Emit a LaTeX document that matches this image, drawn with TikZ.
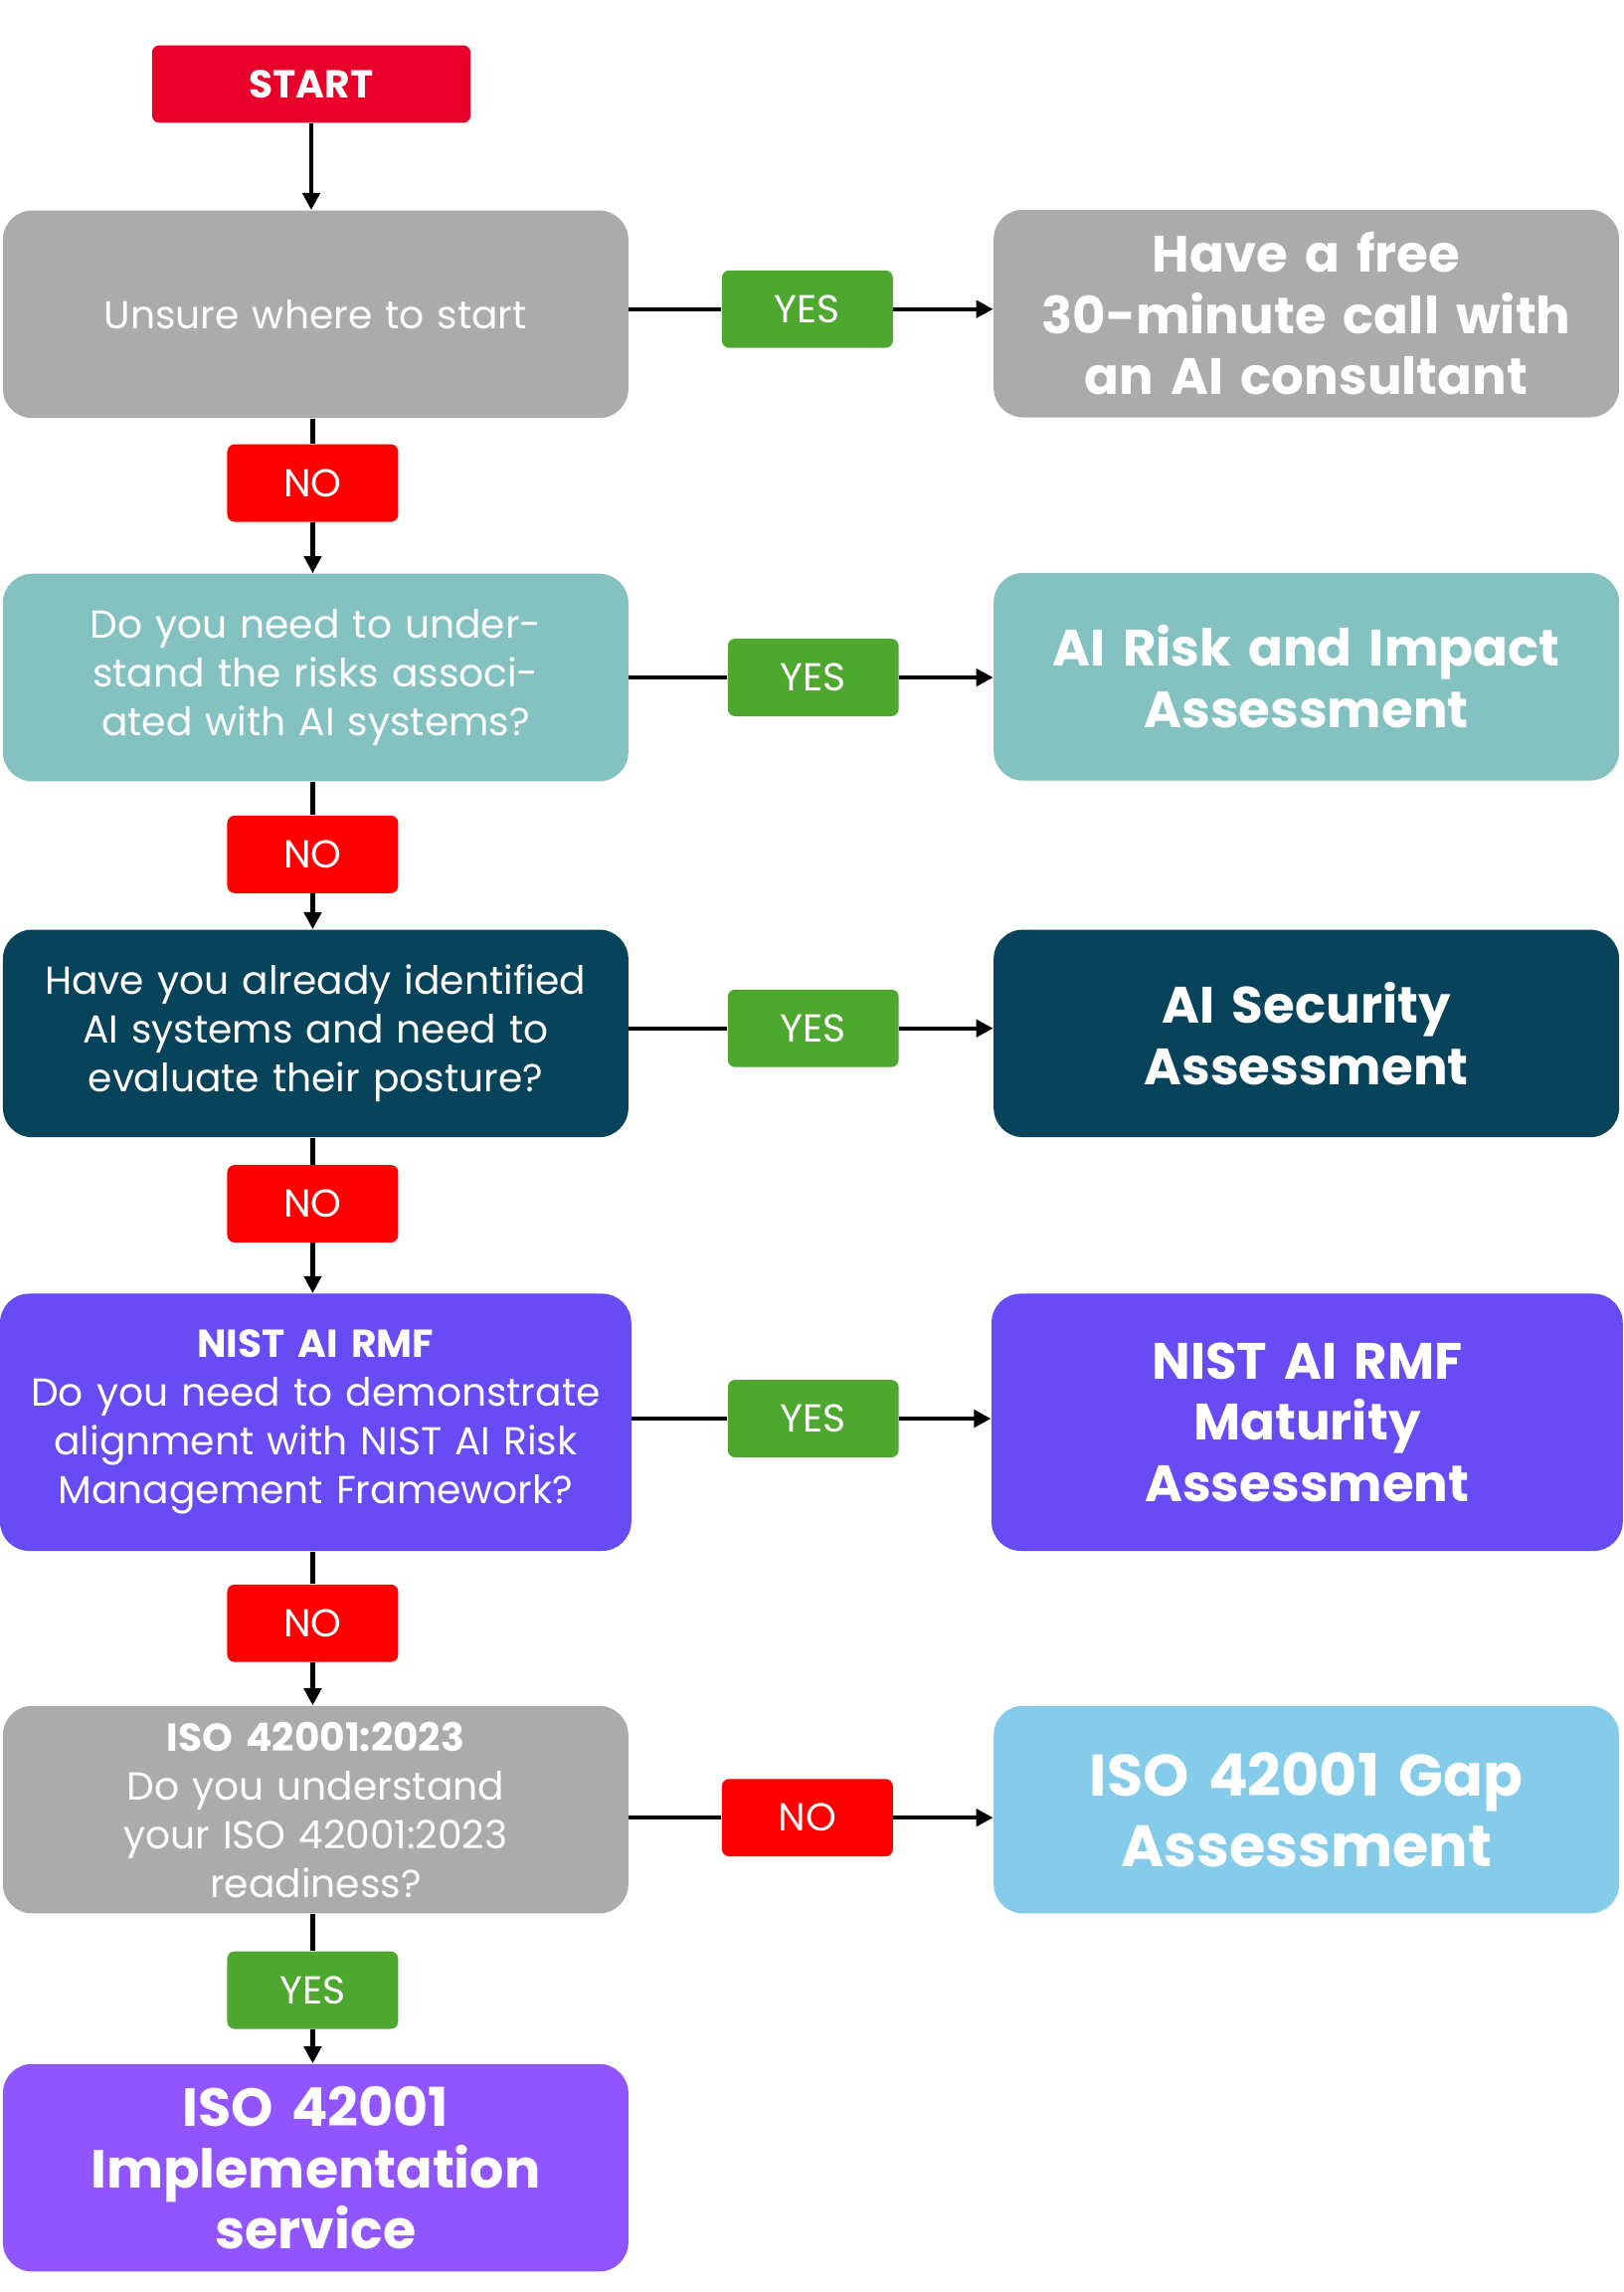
\documentclass[tikz,border=0pt]{standalone}
\usepackage{fontspec}
\setmainfont{Poppins}
\usetikzlibrary{arrows.meta}
\definecolor{cgray}{HTML}{ABABAB}
\definecolor{cteal}{HTML}{84C2C1}
\definecolor{cdark}{HTML}{08435C}
\definecolor{cpurp}{HTML}{684BF5}
\definecolor{cviol}{HTML}{9055FF}
\definecolor{cblue}{HTML}{85CCEB}
\definecolor{cstart}{HTML}{E8002A}
\definecolor{cno}{HTML}{FF0000}
\definecolor{cyes}{HTML}{4EA72E}
\begin{document}
\begin{tikzpicture}[x=0.6pt,y=-0.6pt,
 box/.style={rounded corners=12pt,minimum width=256.8pt,minimum height=85.2pt,text width=245pt,align=center,text=white,inner sep=0pt,font=\fontsize{16}{20}\selectfont},
 big/.style={box,font=\fontsize{21}{25.2}\selectfont\bfseries},
 lab/.style={rounded corners=3pt,minimum width=70.2pt,minimum height=31.8pt,inner sep=0pt,text=white,font=\fontsize{16}{18}\selectfont},
 no/.style={lab,fill=cno},yes/.style={lab,fill=cyes},
 ln/.style={line width=1.8pt},
 ar/.style={ln,-{Triangle[length=7pt,width=7pt]}}]
\fill[white](0,0)rectangle(1111,1568);
\node[rounded corners=3pt,fill=cstart,minimum width=130.8pt,minimum height=31.8pt,text=white,font=\fontsize{16}{18}\selectfont\bfseries] (s) at (213,57.5) {START};
\node[box,fill=cgray] (b1) at (216,215) {Unsure where to start};
\node[big,fill=cgray] (r1) at (894,214.5) {Have a free\\30-minute call with\\an AI consultant};
\node[box,fill=cteal] (b2) at (216,463.5) {Do you need to understand the risks associated with AI systems?};
\node[big,fill=cteal] (r2) at (894,463) {AI Risk and Impact\\Assessment};
\node[box,fill=cdark] (b3) at (216,707) {Have you already identified AI systems and need to evaluate their posture?};
\node[big,fill=cdark] (r3) at (894,707) {AI Security\\Assessment};
\node[box,fill=cpurp,minimum width=259.2pt,minimum height=105.6pt] (b4) at (216,973) {{\bfseries NIST AI RMF}\\Do you need to demonstrate alignment with NIST AI Risk Management Framework?};
\node[big,fill=cpurp,minimum width=259.2pt,minimum height=105.6pt] (r4) at (894.5,973) {NIST AI RMF\\Maturity\\Assessment};
\node[box,fill=cgray] (b5) at (216,1238) {{\bfseries ISO 42001:2023}\\Do you understand\\your ISO 42001:2023\\readiness?};
\node[big,fill=cblue,font=\fontsize{24}{29}\selectfont\bfseries] (r5) at (894,1238) {ISO 42001 Gap\\Assessment};
\node[big,fill=cviol,font=\fontsize{22}{25.2}\selectfont\bfseries] (b6) at (216,1483) {ISO 42001\\Implementation\\service};
\node[no] (n1) at (214,330.5) {NO};
\node[no] (n2) at (214,584.5) {NO};
\node[no] (n3) at (214,823.5) {NO};
\node[no] (n4) at (214,1110.5) {NO};
\node[yes] (y5) at (214,1361.5) {YES};
\node[yes] (y1) at (552.5,211.5) {YES};
\node[yes] (y2) at (556.5,463.5) {YES};
\node[yes] (y3) at (556.5,703.5) {YES};
\node[yes] (y4) at (556.5,970.5) {YES};
\node[no] (n5) at (552.5,1243.5) {NO};
\draw[ar] (s) -- (b1.north-|s);
\foreach \a/\l/\b in {b1/n1/b2,b2/n2/b3,b3/n3/b4,b4/n4/b5,b5/y5/b6}{
 \draw[ln] (\a.south-|\l) -- (\l);
 \draw[ar] (\l) -- (\b.north-|\l);}
\foreach \a/\l/\b in {b1/y1/r1,b2/y2/r2,b3/y3/r3,b4/y4/r4,b5/n5/r5}{
 \draw[ln] (\a.east|-\l) -- (\l);
 \draw[ar] (\l) -- (\b.west|-\l);}
\end{tikzpicture}
\end{document}
